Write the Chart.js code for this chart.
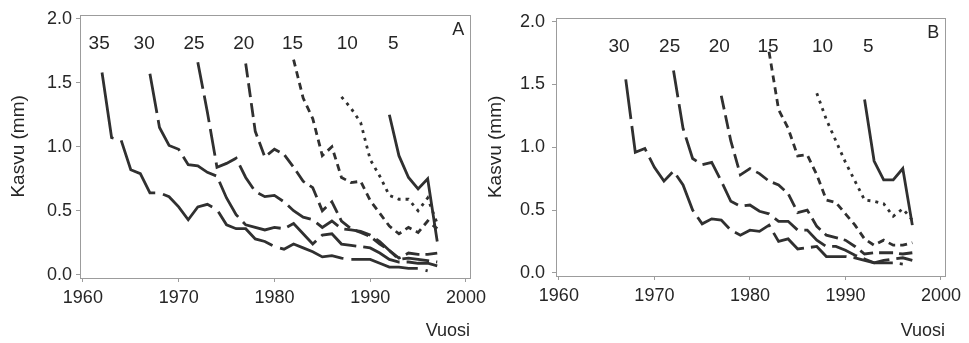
<!DOCTYPE html>
<html>
<head>
<meta charset="utf-8">
<script src="https://cdn.jsdelivr.net/npm/chart.js@4.4.1/dist/chart.umd.min.js"></script>
<style>
  html, body { margin: 0; padding: 0; background: #fff; }
  #wrap { position: relative; width: 969px; height: 343px; overflow: hidden; }
  canvas { position: absolute; top: 0; }
</style>
</head>
<body>
<div id="wrap">
  <canvas id="chartA" width="500" height="343" style="left:0"></canvas>
  <canvas id="chartB" width="489" height="343" style="left:480px"></canvas>
</div>
<script>
// akselit
const xTicks = [1960, 1970, 1980, 1990, 2000];
const yTicks = [0, 0.5, 1.0, 1.5, 2.0];

// paneeli A: ikäluokat, aloitusvuodet ja vuosikasvu (mm)
const agesA = ['35', '30', '25', '20', '15', '10', '5'];
const startA = [1962, 1967, 1972, 1977, 1982, 1987, 1992];
const a35 = [1.58, 1.07, 1.05, 0.82, 0.79, 0.64, 0.64, 0.61, 0.53, 0.43, 0.53, 0.55, 0.51, 0.39, 0.36, 0.36, 0.28, 0.26, 0.22, 0.20, 0.24, 0.21, 0.18, 0.14, 0.15, 0.13, 0.12, 0.12, 0.12, 0.09, 0.06, 0.06, 0.05, 0.05, 0.03];
const a30 = [1.57, 1.15, 1.01, 0.98, 0.86, 0.85, 0.80, 0.77, 0.60, 0.47, 0.39, 0.37, 0.35, 0.37, 0.36, 0.40, 0.32, 0.24, 0.31, 0.32, 0.24, 0.23, 0.22, 0.21, 0.17, 0.12, 0.10, 0.10, 0.09, 0.09, 0.07];
const a25 = [1.66, 1.27, 0.84, 0.87, 0.91, 0.76, 0.65, 0.61, 0.62, 0.57, 0.50, 0.45, 0.43, 0.37, 0.42, 0.36, 0.35, 0.34, 0.31, 0.26, 0.19, 0.12, 0.13, 0.12, 0.11, 0.10];
const a20 = [1.65, 1.12, 0.92, 0.98, 0.94, 0.84, 0.73, 0.68, 0.50, 0.57, 0.42, 0.36, 0.33, 0.30, 0.24, 0.19, 0.13, 0.17, 0.16, 0.16, 0.17];
const a15 = [1.68, 1.38, 1.22, 0.93, 1.00, 0.76, 0.72, 0.73, 0.58, 0.48, 0.38, 0.32, 0.37, 0.33, 0.42, 0.36];
const a10 = [1.39, 1.30, 1.19, 0.90, 0.77, 0.62, 0.59, 0.59, 0.50, 0.60, 0.40];
const a5 = [1.25, 0.93, 0.76, 0.67, 0.75, 0.26];
const labelXA = [1961.7, 1966.4, 1971.6, 1976.8, 1981.9, 1987.6, 1992.4];

// paneeli B
const agesB = ['30', '25', '20', '15', '10', '5'];
const startB = [1967, 1972, 1977, 1982, 1987, 1992];
const b30 = [1.54, 0.96, 0.99, 0.84, 0.73, 0.81, 0.70, 0.50, 0.39, 0.43, 0.42, 0.34, 0.30, 0.34, 0.33, 0.38, 0.25, 0.27, 0.19, 0.20, 0.21, 0.13, 0.13, 0.13, 0.12, 0.10, 0.08, 0.08, 0.08, 0.07];
const b25 = [1.61, 1.15, 0.91, 0.86, 0.88, 0.73, 0.57, 0.53, 0.54, 0.49, 0.47, 0.41, 0.41, 0.34, 0.34, 0.26, 0.21, 0.21, 0.18, 0.14, 0.11, 0.08, 0.10, 0.11, 0.12, 0.10];
const b20 = [1.41, 1.05, 0.78, 0.83, 0.79, 0.73, 0.70, 0.63, 0.48, 0.50, 0.37, 0.30, 0.28, 0.26, 0.21, 0.15, 0.16, 0.16, 0.16, 0.15, 0.16];
const b15 = [1.76, 1.30, 1.15, 0.93, 0.94, 0.78, 0.58, 0.56, 0.47, 0.38, 0.27, 0.22, 0.26, 0.22, 0.22, 0.24];
const b10 = [1.43, 1.22, 1.05, 0.88, 0.73, 0.58, 0.57, 0.55, 0.45, 0.51, 0.42];
const b5 = [1.38, 0.89, 0.74, 0.74, 0.83, 0.38];
const labelXB = [1966.3, 1971.6, 1976.8, 1981.9, 1987.6, 1992.4];

const labelY = 1.80;
const panelLabelX = 1999.2;
const panelLabelY = 1.91;

// viivatyylit ikäluokittain
const dashes = {
    '35': [68, 8], '30': [40, 7], '25': [27, 7], '20': [14, 6],
    '15': [7, 5], '10': [3, 5], '5': []
};

const FONT = '"Liberation Sans", Arial, Helvetica, sans-serif';
const INK = '#262626';
const LINE = '#303030';
Chart.defaults.font.family = FONT;
Chart.defaults.font.size = 18;
Chart.defaults.color = INK;

// kehys + tekstit
const framePlugin = {
    id: 'framePlugin',
    beforeDatasetsDraw(chart) {
        const { ctx, chartArea: a } = chart;
        ctx.save();
        ctx.strokeStyle = '#9c9c9c';
        ctx.lineWidth = 1;
        ctx.strokeRect(Math.round(a.left) + 0.5, Math.round(a.top) + 0.5, Math.round(a.width), Math.round(a.height));
        ctx.restore();
    },
    afterDraw(chart, args, opts) {
        const { ctx, scales: { x, y } } = chart;
        ctx.save();
        ctx.fillStyle = INK;
        ctx.font = '19px ' + FONT;
        ctx.textAlign = 'center';
        ctx.textBaseline = 'middle';
        opts.ages.forEach((age, i) => {
            ctx.fillText(age, x.getPixelForValue(opts.labelX[i]), y.getPixelForValue(labelY));
        });
        ctx.font = '18px ' + FONT;
        ctx.fillText(opts.panel, x.getPixelForValue(panelLabelX), y.getPixelForValue(panelLabelY));
        ctx.restore();
    }
};

function toPoints(start, values) {
    return values.map((v, i) => ({ x: start + i, y: v }));
}

function makeChart(id, p) {
    const datasets = p.series.map((vals, i) => ({
        label: p.ages[i],
        data: toPoints(p.starts[i], vals),
        borderColor: LINE,
        borderWidth: 2.8,
        borderDash: dashes[p.ages[i]],
        borderCapStyle: 'butt',
        pointRadius: 0,
        fill: false,
        tension: 0
    }));

    return new Chart(document.getElementById(id).getContext('2d'), {
        type: 'line',
        data: { datasets },
        plugins: [framePlugin],
        options: {
            responsive: false,
            animation: false,
            layout: { padding: { top: 12, right: p.padRight, left: 0, bottom: 0 } },
            plugins: {
                legend: { display: false },
                tooltip: { enabled: false },
                framePlugin: { ages: p.ages, labelX: p.labelX, panel: p.panel }
            },
            scales: {
                x: {
                    type: 'linear',
                    min: 1959.7,
                    max: 2000.42,
                    afterBuildTicks: s => { s.ticks = xTicks.map(v => ({ value: v })); },
                    afterFit: s => { s.height = p.xHeight; },
                    ticks: { padding: 5, maxRotation: 0, callback: v => String(v) },
                    grid: { drawOnChartArea: false, tickLength: 4, color: '#9c9c9c' },
                    border: { display: false },
                    title: { display: true, text: 'Vuosi', align: 'end', padding: { top: 0, bottom: 1 } }
                },
                y: {
                    min: -0.025,
                    max: 2.03,
                    afterBuildTicks: s => { s.ticks = yTicks.map(v => ({ value: v })); },
                    afterFit: s => { s.width = p.yWidth; },
                    ticks: { padding: p.yPad, callback: v => v.toFixed(1) },
                    grid: { drawOnChartArea: false, tickLength: 4, color: '#9c9c9c' },
                    border: { display: false },
                    title: { display: true, text: 'Kasvu (mm)', font: { size: 19 }, padding: { top: p.yTitlePad, bottom: 0 } }
                }
            }
        }
    });
}

makeChart('chartA', {
    ages: agesA, starts: startA, series: [a35, a30, a25, a20, a15, a10, a5],
    labelX: labelXA, panel: 'A', padRight: 30, xHeight: 65, yWidth: 80, yPad: 4, yTitlePad: 7
});
makeChart('chartB', {
    ages: agesB, starts: startB, series: [b30, b25, b20, b15, b10, b5],
    labelX: labelXB, panel: 'B', padRight: 24, xHeight: 67, yWidth: 76, yPad: 7, yTitlePad: 4
});
</script>
</body>
</html>
